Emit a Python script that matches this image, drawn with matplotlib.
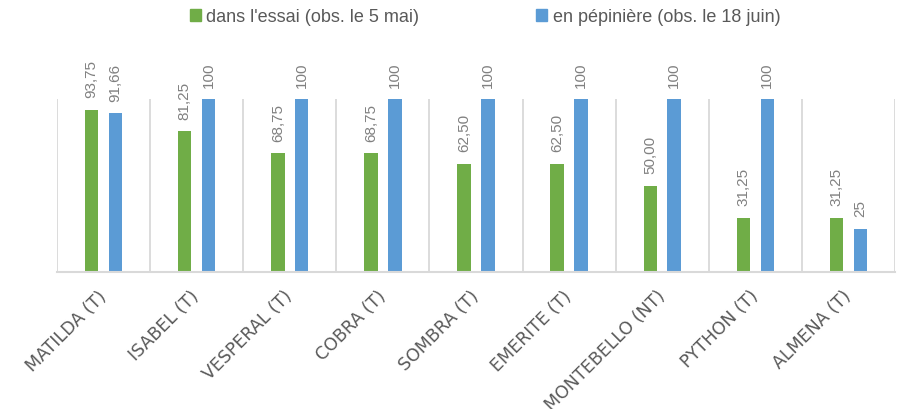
import matplotlib
matplotlib.use("Agg")
import matplotlib.pyplot as plt
import numpy as np
from matplotlib.patches import Patch

categories = ["MATILDA (T)", "ISABEL (T)", "VESPERAL (T)", "COBRA (T)", "SOMBRA (T)",
              "EMERITE (T)", "MONTEBELLO (NT)", "PYTHON (T)", "ALMENA (T)"]
essai = [93.75, 81.25, 68.75, 68.75, 62.50, 62.50, 50.00, 31.25, 31.25]
pepiniere = [91.66, 100, 100, 100, 100, 100, 100, 100, 25]
essai_labels = ["93,75", "81,25", "68,75", "68,75", "62,50", "62,50", "50,00", "31,25", "31,25"]
pepiniere_labels = ["91,66", "100", "100", "100", "100", "100", "100", "100", "25"]
series_names = ["dans l'essai (obs. le 5 mai)", "en pépinière (obs. le 18 juin)"]

GREEN = "#70AD47"
BLUE = "#5B9BD5"
GRID = "#D9D9D9"
TXT = "#595959"
LBL = "#808080"

plt.rcParams['font.family'] = ['Liberation Sans', 'DejaVu Sans']

fig = plt.figure(figsize=(8.99, 4.10), dpi=100)
ax = fig.add_axes([57/899, 1-273/410, (895-57)/899, (273-100)/410])

x = np.arange(len(categories))
w = 0.145
off = 0.128
b1 = ax.bar(x - off, essai, w, color=GREEN, zorder=3)
b2 = ax.bar(x + off, pepiniere, w, color=BLUE, zorder=3)

for bars, labs in ((b1, essai_labels), (b2, pepiniere_labels)):
    for rect, lab in zip(bars, labs):
        ax.annotate(lab, (rect.get_x() + rect.get_width()/2, rect.get_height()),
                    xytext=(0, 9), textcoords="offset points", rotation=90,
                    ha="center", va="bottom", color=LBL, fontsize=11,
                    annotation_clip=False)

ax.set_xlim(-0.5, len(categories) - 0.5)
ax.set_ylim(0, 100)
ax.set_yticks([])
for b in np.arange(-0.5, len(categories), 1.0):
    ax.axvline(b, color=GRID, lw=1.3, zorder=1)
for s in ["top", "left", "right"]:
    ax.spines[s].set_visible(False)
ax.spines["bottom"].set_color(GRID)
ax.spines["bottom"].set_linewidth(1.5)
ax.spines["bottom"].set_zorder(4)

ax.set_xticks(x)
ax.set_xticklabels(categories, rotation=45, ha="right", va="center",
                   rotation_mode="anchor", color=TXT)
for t in ax.get_xticklabels():
    t.set_fontfamily(['DejaVu Sans'])
    t.set_fontsize(12.5)
ax.tick_params(axis="x", length=0, pad=15)

handles = [Patch(color=GREEN), Patch(color=BLUE)]
fig.legend(handles, series_names, loc="center", bbox_to_anchor=(485/899, 1-18/410),
           ncol=2, frameon=False, fontsize=13, labelcolor=TXT,
           handlelength=0.6, handleheight=0.6, handletextpad=0.3, columnspacing=6.5)

fig.savefig("out.png", dpi=100)
